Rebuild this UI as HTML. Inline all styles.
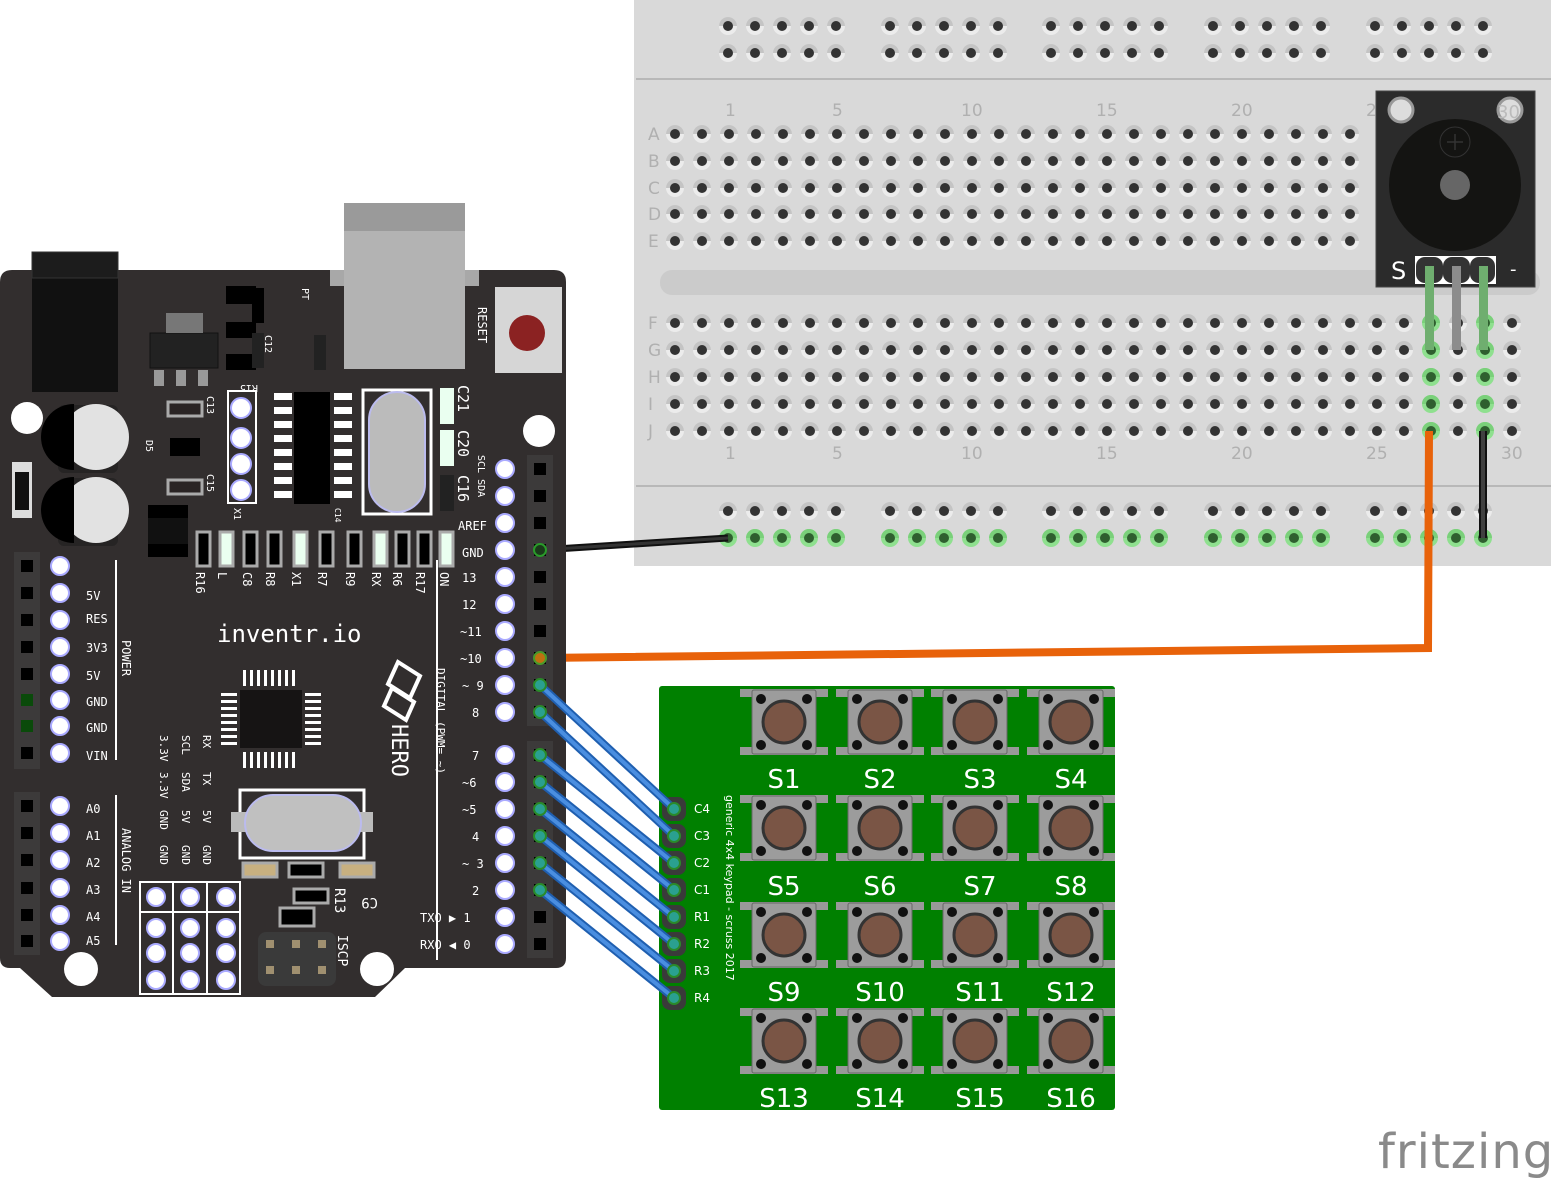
<!DOCTYPE html>
<html><head><meta charset="utf-8"><style>
html,body{margin:0;padding:0;background:#fff;}
svg{display:block;}
.m{font-family:"DejaVu Sans Mono","Liberation Mono",monospace;fill:#fff;}
.s{font-family:"DejaVu Sans","Liberation Sans",sans-serif;}
</style></head><body>
<svg id="sv" width="1551" height="1179" viewBox="0 0 1551 1179" xmlns="http://www.w3.org/2000/svg">
<rect x="634" y="0" width="917" height="566" fill="#d9d9d9"/>
<line x1="636" y1="79" x2="1551" y2="79" stroke="#b8b8b8" stroke-width="2"/>
<line x1="636" y1="486" x2="1551" y2="486" stroke="#b8b8b8" stroke-width="2"/>
<rect x="660" y="270" width="880" height="25" rx="12" fill="#cbcbcb"/>
<g id="holes"></g>
<g class="s" fill="#b0b0b0" font-size="17">
<text x="725" y="116">1</text><text x="832" y="116">5</text><text x="961" y="116">10</text><text x="1096" y="116">15</text><text x="1231" y="116">20</text><text x="1366" y="116">25</text>
<text x="725" y="459">1</text><text x="832" y="459">5</text><text x="961" y="459">10</text><text x="1096" y="459">15</text><text x="1231" y="459">20</text><text x="1366" y="459">25</text><text x="1501" y="459">30</text>
<text x="648" y="140">A</text><text x="648" y="167">B</text><text x="648" y="194">C</text><text x="648" y="220">D</text><text x="648" y="247">E</text>
<text x="648" y="329">F</text><text x="648" y="356">G</text><text x="648" y="383">H</text><text x="648" y="410">I</text><text x="648" y="437">J</text>
</g>
<rect x="1376" y="91" width="159" height="196" fill="#2b2b2b" stroke="#444"/>
<circle cx="1401" cy="110" r="12" fill="#ddd" stroke="#999" stroke-width="3"/>
<circle cx="1510" cy="110" r="12" fill="#ddd" stroke="#999" stroke-width="3"/>
<text x="1497" y="118" class="s" font-size="18" fill="#bbb">30</text>
<circle cx="1455" cy="185" r="66" fill="#141412"/>
<circle cx="1455" cy="142" r="15" fill="none" stroke="#333"/>
<path d="M1447 142h16M1455 134v16" stroke="#333" stroke-width="1.5"/>
<circle cx="1455" cy="185" r="15" fill="#666"/>
<rect x="1415" y="256" width="81" height="28" fill="#fff"/>
<rect x="1416" y="257" width="27" height="26" rx="9" fill="#333"/><rect x="1443" y="257" width="27" height="26" rx="9" fill="#333"/><rect x="1470" y="257" width="25" height="26" rx="9" fill="#333"/>
<text x="1391" y="279" class="s" font-size="24" fill="#fff">S</text>
<text x="1510" y="275" class="s" font-size="18" fill="#fff">-</text>
<rect x="1425" y="266" width="9" height="84" fill="#6fae6f"/>
<rect x="1452" y="266" width="9" height="84" fill="#8c8c8c"/>
<rect x="1479" y="266" width="9" height="84" fill="#6fae6f"/>
<path d="M540 550 L728 538" stroke="#111" stroke-width="7" fill="none"/>
<path d="M540 550 L728 538" stroke="#333" stroke-width="3" fill="none"/>
<path d="M1483 431 V538" stroke="#111" stroke-width="8"/>
<path d="M1483 431 V538" stroke="#404040" stroke-width="4"/>
<path d="M540 658 L1428 648 L1429 431" stroke="#e8620a" stroke-width="8" fill="none"/>
<path d="M12 270 H554 Q566 270 566 282 V958 Q566 968 556 968 H405 L375 997 H52 L20 968 H10 Q0 968 0 958 V282 Q0 270 12 270Z" fill="#322e2e"/>
<rect x="344" y="203" width="121" height="166" fill="#b3b3b3"/><rect x="344" y="203" width="121" height="28" fill="#9a9a9a"/>
<rect x="330" y="270" width="14" height="16" fill="#a8a8a8"/><rect x="465" y="270" width="14" height="16" fill="#a8a8a8"/>
<rect x="32" y="252" width="86" height="140" fill="#111"/><rect x="32" y="252" width="86" height="26" fill="#1c1c1c" stroke="#333"/>
<rect x="495" y="287" width="67" height="86" fill="#d6d6d6"/><circle cx="527" cy="333" r="18" fill="#8b2222"/>
<text class="m" font-size="12" transform="translate(478,307) rotate(90)">RESET</text>
<rect x="150" y="333" width="68" height="35" fill="#222" stroke="#111"/><rect x="166" y="313" width="37" height="20" fill="#777"/>
<rect x="154" y="370" width="10" height="16" fill="#999"/><rect x="176" y="370" width="10" height="16" fill="#999"/><rect x="198" y="370" width="10" height="16" fill="#999"/>
<rect x="226" y="286" width="30" height="18" fill="#000"/><rect x="226" y="322" width="30" height="16" fill="#000"/><rect x="226" y="354" width="30" height="16" fill="#000"/>
<rect x="252" y="288" width="12" height="35" fill="#000"/><rect x="252" y="333" width="12" height="35" fill="#222"/><rect x="314" y="335" width="12" height="35" fill="#222"/>
<rect x="12" y="462" width="20" height="56" fill="#ddd"/><rect x="15" y="472" width="14" height="38" fill="#111"/>
<circle cx="27" cy="418" r="16" fill="#fff"/><circle cx="81" cy="969" r="17" fill="#fff"/><circle cx="539" cy="431" r="16" fill="#fff"/><circle cx="377" cy="969" r="17" fill="#fff"/>
<rect x="58" y="405" width="60" height="68" rx="6" fill="#262424"/><rect x="58" y="478" width="60" height="68" rx="6" fill="#262424"/>
<circle cx="96" cy="437" r="33" fill="#e2e2e2"/><path d="M96 404 A33 33 0 0 0 96 470 Z" transform="translate(-22,0)" fill="#000"/>
<circle cx="96" cy="510" r="33" fill="#e2e2e2"/><path d="M96 477 A33 33 0 0 0 96 543 Z" transform="translate(-22,0)" fill="#000"/>
<rect x="168" y="402" width="34" height="14" fill="#2a2424" stroke="#aaa" stroke-width="3"/><rect x="168" y="480" width="34" height="14" fill="#2a2424" stroke="#aaa" stroke-width="3"/>
<rect x="170" y="438" width="30" height="18" fill="#000"/>
<rect x="148" y="505" width="40" height="52" fill="#000"/><rect x="148" y="518" width="40" height="26" fill="#111"/>
<rect x="228" y="391" width="28" height="112" fill="none" stroke="#fff" stroke-width="2"/>
<circle cx="241" cy="408" r="10" fill="#fff" stroke="#aaf" stroke-width="2"/><circle cx="241" cy="438" r="10" fill="#fff" stroke="#aaf" stroke-width="2"/><circle cx="241" cy="464" r="10" fill="#fff" stroke="#aaf" stroke-width="2"/><circle cx="241" cy="490" r="10" fill="#fff" stroke="#aaf" stroke-width="2"/>
<rect x="294" y="392" width="36" height="112" fill="#000"/>
<g id="ic1"></g>
<rect x="363" y="390" width="68" height="124" fill="none" stroke="#fff" stroke-width="3"/>
<rect x="369" y="392" width="56" height="120" rx="28" fill="#bbb" stroke="#bbe" stroke-width="2"/>
<rect x="440" y="388" width="14" height="36" fill="#eafff0"/><rect x="440" y="430" width="14" height="36" fill="#eafff0"/><rect x="440" y="475" width="14" height="36" fill="#222"/>
<g id="smd"></g>
<g class="m" font-size="12">
<text transform="translate(458,385) rotate(90)" font-size="15">C21</text>
<text transform="translate(458,430) rotate(90)" font-size="15">C20</text>
<text transform="translate(458,475) rotate(90)" font-size="15">C16</text>
<text transform="translate(478,455) rotate(90)" font-size="10">SCL SDA</text>
<text x="458" y="530">AREF</text><text x="462" y="557">GND</text>
<text x="462" y="582">13</text><text x="462" y="609">12</text><text x="460" y="636">~11</text><text x="460" y="663">~10</text><text x="462" y="690">~ 9</text><text x="472" y="717">8</text>
<text x="472" y="760">7</text><text x="462" y="787">~6</text><text x="462" y="814">~5</text><text x="472" y="841">4</text><text x="462" y="868">~ 3</text><text x="472" y="895">2</text>
<text x="420" y="922">TXO ▶ 1</text><text x="420" y="949">RXO ◀ 0</text>
<text x="86" y="600">5V</text><text x="86" y="623">RES</text><text x="86" y="652">3V3</text><text x="86" y="680">5V</text><text x="86" y="706">GND</text><text x="86" y="732">GND</text><text x="86" y="760">VIN</text>
<text x="86" y="813">A0</text><text x="86" y="840">A1</text><text x="86" y="867">A2</text><text x="86" y="894">A3</text><text x="86" y="921">A4</text><text x="86" y="945">A5</text>
<text transform="translate(122,640) rotate(90)">POWER</text>
<text transform="translate(122,828) rotate(90)">ANALOG IN</text>
<text transform="translate(437,668) rotate(90)" font-size="11">DIGITAL (PWM=  ~)</text>
<g font-size="11">
<text transform="translate(160,735) rotate(90)">3.3V</text><text transform="translate(160,772) rotate(90)">3.3V</text><text transform="translate(160,810) rotate(90)">GND</text><text transform="translate(160,845) rotate(90)">GND</text>
<text transform="translate(182,735) rotate(90)">SCL</text><text transform="translate(182,772) rotate(90)">SDA</text><text transform="translate(182,810) rotate(90)">5V</text><text transform="translate(182,845) rotate(90)">GND</text>
<text transform="translate(203,735) rotate(90)">RX</text><text transform="translate(203,772) rotate(90)">TX</text><text transform="translate(203,810) rotate(90)">5V</text><text transform="translate(203,845) rotate(90)">GND</text>
</g>
<text transform="translate(302,288) rotate(90)" font-size="10">PT</text>
<text transform="translate(265,335) rotate(90)" font-size="10">C12</text>
<text transform="translate(258,385) rotate(180)" font-size="10">R15</text>
<text transform="translate(207,396) rotate(90)" font-size="10">C13</text>
<text transform="translate(207,474) rotate(90)" font-size="10">C15</text>
<text transform="translate(146,440) rotate(90)" font-size="10">D5</text>
<text transform="translate(234,508) rotate(90)" font-size="10">X1</text>
<text transform="translate(335,508) rotate(90)" font-size="8">C14</text>
<text transform="translate(196,572) rotate(90)">R16</text><text transform="translate(218,572) rotate(90)">L</text><text transform="translate(243,572) rotate(90)">C8</text><text transform="translate(266,572) rotate(90)">R8</text><text transform="translate(292,572) rotate(90)">X1</text><text transform="translate(318,572) rotate(90)">R7</text><text transform="translate(346,572) rotate(90)">R9</text><text transform="translate(372,572) rotate(90)">RX</text><text transform="translate(393,572) rotate(90)">R6</text><text transform="translate(416,572) rotate(90)">R17</text><text transform="translate(440,572) rotate(90)">ON</text>
<text transform="translate(335,888) rotate(90)" font-size="14">R13</text>
<text transform="translate(378,898) rotate(180)" font-size="14">C9</text>
<text transform="translate(338,935) rotate(90)" font-size="13">ISCP</text>
<text transform="translate(392,724) rotate(90)" font-size="22">HERO</text>
</g>
<text x="217" y="642" class="m" font-size="24">inventr.io</text>
<path d="M398 662 l22 14 -10 22 -22 -14z M392 688 l22 14 -8 18 -22 -14z" fill="none" stroke="#fff" stroke-width="4"/>
<rect x="436" y="560" width="2" height="400" fill="#fff"/><rect x="115" y="560" width="2" height="200" fill="#fff"/><rect x="115" y="795" width="2" height="150" fill="#fff"/>
<rect x="240" y="690" width="62" height="58" fill="#161414"/>
<g id="ic2"></g>
<rect x="240" y="790" width="124" height="68" fill="none" stroke="#fff" stroke-width="3"/>
<rect x="231" y="812" width="142" height="20" fill="#bbb"/>
<rect x="245" y="795" width="116" height="56" rx="28" fill="#c0c0c0" stroke="#bbe" stroke-width="2"/>
<rect x="243" y="863" width="34" height="14" fill="#c8b080" stroke="#aaa" stroke-width="3"/><rect x="289" y="863" width="34" height="14" fill="#000" stroke="#aaa" stroke-width="3"/><rect x="340" y="863" width="34" height="14" fill="#c8b080" stroke="#aaa" stroke-width="3"/>
<rect x="294" y="889" width="34" height="14" fill="#000" stroke="#aaa" stroke-width="3"/><rect x="280" y="908" width="34" height="18" fill="#000" stroke="#aaa" stroke-width="3"/>
<rect x="140" y="882" width="100" height="112" fill="none" stroke="#fff" stroke-width="2"/>
<path d="M140 912H240M173 882V994M207 882V994" stroke="#fff" stroke-width="2"/>
<rect x="258" y="932" width="78" height="54" rx="8" fill="#3a3a3a"/>
<g id="pins"></g>
<rect x="659" y="686" width="456" height="424" rx="3" fill="#008000"/>
<g id="kp"></g>
<g class="s" fill="#fff" font-size="26" text-anchor="middle">
<text x="784" y="788">S1</text><text x="880" y="788">S2</text><text x="980" y="788">S3</text><text x="1071" y="788">S4</text>
<text x="784" y="895">S5</text><text x="880" y="895">S6</text><text x="980" y="895">S7</text><text x="1071" y="895">S8</text>
<text x="784" y="1001">S9</text><text x="880" y="1001">S10</text><text x="980" y="1001">S11</text><text x="1071" y="1001">S12</text>
<text x="784" y="1107">S13</text><text x="880" y="1107">S14</text><text x="980" y="1107">S15</text><text x="1071" y="1107">S16</text>
</g>
<g class="s" fill="#fff" font-size="12">
<text x="694" y="813">C4</text><text x="694" y="840">C3</text><text x="694" y="867">C2</text><text x="694" y="894">C1</text>
<text x="694" y="921">R1</text><text x="694" y="948">R2</text><text x="694" y="975">R3</text><text x="694" y="1002">R4</text>
<text transform="translate(726,795) rotate(90)" font-size="11">generic 4x4 keypad - scruss 2017</text>
</g>
<g id="bw"></g>
<text x="1378" y="1168" class="s" font-size="48" fill="#8a8a8a" letter-spacing="1">fritzing</text>
</svg>
<script>
var NS="http://www.w3.org/2000/svg";
function el(p,t,a){var e=document.createElementNS(NS,t);for(var k in a)e.setAttribute(k,a[k]);document.getElementById(p).appendChild(e);return e;}
function hole(x,y,g){el("holes","circle",{cx:x,cy:y,r:9,fill:g?"#8fe08f":"#ececec"});el("holes","path",{d:"M"+(x-9)+" "+y+"A9 9 0 0 1 "+(x+9)+" "+y+"Z",fill:g?"#7ad07a":"#c4c4c4"});el("holes","circle",{cx:x,cy:y,r:5,fill:g?"#2f5f2f":"#333"});}
var groups=[728,890,1051,1213,1375];
groups.forEach(function(g){for(var i=0;i<5;i++){var x=g+i*27;hole(x,26);hole(x,53);hole(x,511);hole(x,538,true);}});
var rows=[134,161,188,214,241,323,350,377,404,431];
for(var c=-1;c<=30;c++){var x=729+(c-1)*27;rows.forEach(function(y,ri){if(ri<5&&x>1365)return;var g=(ri>=5&&(c==27||c==29));hole(x,y,g);});}
for(var i=0;i<8;i++){el("ic1","rect",{x:274,y:393+i*14,width:18,height:7,fill:"#fff"});el("ic1","rect",{x:334,y:393+i*14,width:18,height:7,fill:"#fff"});}
for(var i=0;i<8;i++){el("ic2","rect",{x:243+i*7,y:670,width:3,height:16,fill:"#fff"});el("ic2","rect",{x:243+i*7,y:752,width:3,height:16,fill:"#fff"});el("ic2","rect",{x:221,y:693+i*7,width:16,height:3,fill:"#fff"});el("ic2","rect",{x:305,y:693+i*7,width:16,height:3,fill:"#fff"});}
var sx=[203,226,250,274,300,326,354,380,402,424,446],sc=["#000","#eafff0","#000","#000","#eafff0","#000","#000","#eafff0","#000","#000","#eafff0"];
sx.forEach(function(x,i){el("smd","rect",{x:x-6,y:532,width:13,height:34,fill:sc[i],stroke:"#aaa","stroke-width":3});});
function hdr(x,y0,n){el("pins","rect",{x:x-13,y:y0-14,width:26,height:n*27+1,fill:"#3c3a3a"});}
hdr(540,469,10);hdr(540,755,8);hdr(27,566,8);hdr(27,806,6);
var R=[469,496,523,550,577,604,631,658,685,712,755,782,809,836,863,890,917,944];
R.forEach(function(y){el("pins","rect",{x:534,y:y-6,width:12,height:12,fill:"#000"});el("pins","circle",{cx:505,cy:y,r:9,fill:"#fff",stroke:"#aaf","stroke-width":2});});
var L=[566,593,620,647,674,700,726,753,806,833,860,888,915,941];
L.forEach(function(y,i){el("pins","rect",{x:21,y:y-6,width:12,height:12,fill:(i==5||i==6)?"#0a4a0a":"#000"});el("pins","circle",{cx:60,cy:y,r:9,fill:"#fff",stroke:"#aaf","stroke-width":2});});
[[156,897],[190,897],[226,897],[156,953],[190,953],[226,953],[156,980],[190,980],[226,980],[156,928],[190,928],[226,928]].forEach(function(p){el("pins","circle",{cx:p[0],cy:p[1],r:9,fill:"#fff",stroke:"#aaf","stroke-width":2});});
[[270,944],[296,944],[322,944],[270,970],[296,970],[322,970]].forEach(function(p){el("pins","rect",{x:p[0]-4,y:p[1]-4,width:8,height:8,fill:"#a09070"});});
var kx=[784,880,975,1071],ky=[722,828,935,1041];
ky.forEach(function(y){kx.forEach(function(x){
el("kp","rect",{x:x-44,y:y-33,width:88,height:8,fill:"#999"});el("kp","rect",{x:x-44,y:y+25,width:88,height:8,fill:"#999"});
el("kp","rect",{x:x-32,y:y-32,width:64,height:64,rx:2,fill:"#9c9c9c",stroke:"#666"});
[[-23,-23],[23,-23],[-23,23],[23,23]].forEach(function(d){el("kp","circle",{cx:x+d[0],cy:y+d[1],r:5,fill:"#111"});});
el("kp","circle",{cx:x,cy:y,r:21,fill:"#7a5545",stroke:"#333","stroke-width":3});});});
var kp=[809,836,863,890,917,944,971,998];
kp.forEach(function(y){el("kp","rect",{x:662,y:y-12,width:24,height:24,rx:8,fill:"#3a3a3a"});});
var src=[685,712,755,782,809,836,863,890];
src.forEach(function(y,i){var d="M540 "+y+" L674 "+kp[i];el("bw","path",{d:d,stroke:"#1f5fb0","stroke-width":8,fill:"none","stroke-linecap":"round"});el("bw","path",{d:d,stroke:"#4a8ee0","stroke-width":4,fill:"none"});el("bw","circle",{cx:540,cy:y,r:6,fill:"#2aa090",stroke:"#2a8a2a","stroke-width":2});el("bw","circle",{cx:674,cy:kp[i],r:6,fill:"#2aa090",stroke:"#2a8a2a","stroke-width":2});});
el("bw","circle",{cx:540,cy:550,r:6,fill:"#1a3a1a",stroke:"#2a9a2a","stroke-width":2});
el("bw","circle",{cx:540,cy:658,r:6,fill:"#c07010",stroke:"#4a9a2a","stroke-width":2});
</script>
</body></html>
